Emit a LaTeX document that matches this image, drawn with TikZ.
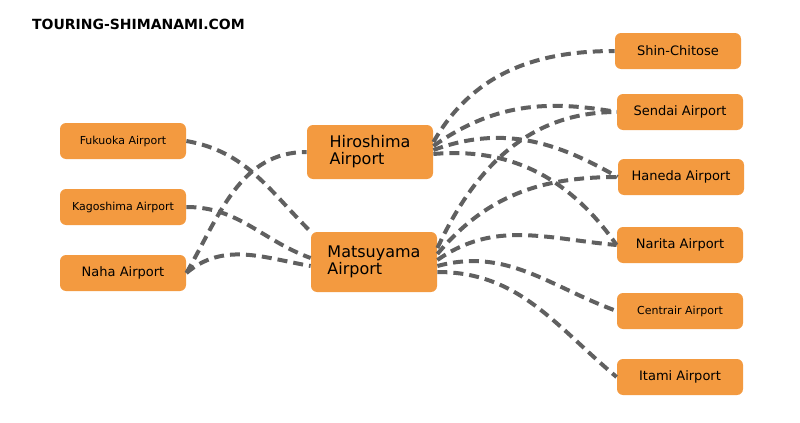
\documentclass[tikz,border=0pt]{standalone}
\usepackage{fontspec}
\setmainfont{DejaVu Sans}
\definecolor{AirOrange}{HTML}{F39A40}
\definecolor{RouteGray}{HTML}{606060}
\usetikzlibrary{positioning}
\begin{document}
\begin{tikzpicture}[
		x=0.5pt, y=-0.5pt,
		airport/.style={fill=AirOrange, rounded corners=3pt, minimum width=63pt, minimum height=18pt, inner sep=1pt},
		hub/.style={airport, minimum height=27pt, align=left, font=\fontsize{8}{8.5}\selectfont},
		route/.style={draw=RouteGray, line width=2pt, dash pattern=on 5pt off 3pt}
	]
	\useasboundingbox (0,0) rectangle (800,423);
	\node[anchor=west, font=\bfseries\fontsize{7}{8}\selectfont] (site) at (25,24) {TOURING-SHIMANAMI.COM};

	\node[airport, font=\fontsize{5.5}{6}\selectfont] (fukuoka) at (123,141) {Fukuoka Airport};
	\node[airport, font=\fontsize{5.5}{6}\selectfont] (kagoshima) at (123,207) {Kagoshima Airport};
	\node[airport, font=\fontsize{6.5}{7}\selectfont] (naha) at (123,273) {Naha Airport};

	\node[hub] (hiroshima) at (370,152) {Hiroshima\\Airport};
	\node[hub, minimum height=30pt] (matsuyama) at (374,262) {Matsuyama\\Airport};

	\node[airport, font=\fontsize{6.5}{7}\selectfont] (chitose) at (678,51) {Shin-Chitose};
	\node[airport, font=\fontsize{6.5}{7}\selectfont] (sendai) at (680,112) {Sendai Airport};
	\node[airport, font=\fontsize{6.5}{7}\selectfont] (haneda) at (681,177) {Haneda Airport};
	\node[airport, font=\fontsize{6.5}{7}\selectfont] (narita) at (680,245) {Narita Airport};
	\node[airport, font=\fontsize{5.5}{6}\selectfont] (centrair) at (680,311) {Centrair Airport};
	\node[airport, font=\fontsize{6.5}{7}\selectfont] (itami) at (680,377) {Itami Airport};

	% routes to the hubs
	\draw[route] (fukuoka.east) to[out=-10, in=135] (matsuyama.north west);
	\draw[route] (kagoshima.east) to[out=0, in=160] ([yshift=2pt]matsuyama.west);
	\draw[route] (naha.east) to[out=60, in=180] (hiroshima.west);
	\draw[route] (naha.east) to[out=40, in=170] ([yshift=-2pt]matsuyama.west);

	% routes from Hiroshima
	\draw[route] ([yshift=5pt]hiroshima.east) to[out=60, in=180] (chitose.west);
	\draw[route] ([yshift=3pt]hiroshima.east) to[out=35, in=170] (sendai.west);
	\draw[route] ([yshift=1pt]hiroshima.east) to[out=20, in=150] (haneda.west);
	\draw[route] ([yshift=-1pt]hiroshima.east) to[out=5, in=125] (narita.west);

	% routes from Matsuyama
	\draw[route] ([yshift=7pt]matsuyama.east) to[out=65, in=180] (sendai.west);
	\draw[route] ([yshift=4pt]matsuyama.east) to[out=50, in=180] (haneda.west);
	\draw[route] ([yshift=1pt]matsuyama.east) to[out=35, in=175] (narita.west);
	\draw[route] ([yshift=-2pt]matsuyama.east) to[out=15, in=160] (centrair.west);
	\draw[route] ([yshift=-5pt]matsuyama.east) to[out=0, in=140] (itami.west);
\end{tikzpicture}
\end{document}
